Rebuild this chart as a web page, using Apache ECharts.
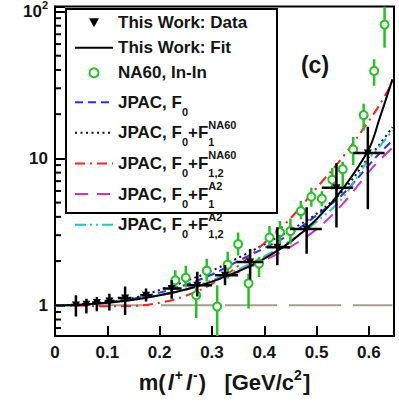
<!DOCTYPE html>
<html>
<head>
<meta charset="utf-8">
<script src="https://cdn.jsdelivr.net/npm/echarts@6/dist/echarts.min.js"></script>
<style>
  html, body { margin: 0; padding: 0; background: #fff; }
  #chart { width: 399px; height: 402px; }
</style>
</head>
<body>
<div id="chart"></div>
<script>
// Dilepton mass grid on which the form-factor curves are tabulated (GeV/c^2)
const curveMass = [0, 0.05, 0.1, 0.15, 0.2, 0.25, 0.3, 0.35, 0.4, 0.45, 0.5, 0.55, 0.6, 0.62, 0.645];
// |F|^2 curves
const fitCurve     = [1.00, 1.01, 1.04, 1.09, 1.17, 1.28, 1.45, 1.70, 2.08, 2.70, 3.85, 6.2, 11.6, 18.5, 34.5];
const jpacF0       = [1.00, 1.01, 1.05, 1.11, 1.22, 1.38, 1.62, 2.00, 2.45, 3.05, 4.10, 5.7, 9.0, 10.8, 13.2];
const jpacF1NA60   = [1.00, 1.01, 1.05, 1.12, 1.27, 1.46, 1.72, 2.10, 2.60, 3.25, 4.20, 6.0, 10.2, 12.4, 16.3];
const jpacF12NA60  = [1.00, 0.995, 0.985, 0.99, 1.04, 1.16, 1.40, 1.85, 2.65, 3.90, 6.3, 10.2, 18.0, 23.0, 33.0];
const jpacF1A2     = [1.00, 1.01, 1.04, 1.09, 1.17, 1.28, 1.45, 1.68, 2.02, 2.50, 3.30, 4.9, 8.1, 9.7, 11.8];
const jpacF12A2    = [1.00, 1.01, 1.04, 1.09, 1.17, 1.29, 1.48, 1.75, 2.15, 2.75, 3.70, 5.4, 9.9, 12.0, 15.5];

// This work: measured points with bin edges and uncertainties
const dataMass = [0.040, 0.060, 0.080, 0.104, 0.134, 0.174, 0.223, 0.272, 0.325, 0.373, 0.425, 0.481, 0.538, 0.598];
const dataLow  = [0.030, 0.052, 0.071, 0.095, 0.120, 0.163, 0.206, 0.252, 0.306, 0.347, 0.405, 0.449, 0.510, 0.570];
const dataHigh = [0.048, 0.068, 0.087, 0.114, 0.146, 0.185, 0.242, 0.300, 0.350, 0.398, 0.449, 0.510, 0.570, 0.630];
const dataVal  = [1.005, 1.017, 1.045, 1.07, 1.12, 1.17, 1.30, 1.37, 1.60, 1.97, 2.48, 3.30, 6.30, 10.9];
const dataErrLo = [0.84, 0.88, 0.91, 0.92, 0.86, 1.06, 1.11, 1.15, 1.37, 1.50, 1.87, 2.24, 3.39, 4.50];
const dataErrHi = [1.17, 1.11, 1.14, 1.20, 1.34, 1.30, 1.48, 1.69, 1.88, 2.42, 3.40, 4.64, 9.28, 16.4];

// NA60 In-In points
const na60Mass = [0.23, 0.25, 0.27, 0.29, 0.31, 0.33, 0.35, 0.37, 0.39, 0.41, 0.43, 0.45, 0.47, 0.49, 0.51, 0.53, 0.55, 0.57, 0.59, 0.61, 0.63];
const na60Val  = [1.48, 1.54, 1.17, 1.72, 0.98, 1.89, 2.61, 1.41, 1.92, 2.89, 3.15, 3.20, 4.38, 5.48, 5.32, 7.16, 8.45, 11.5, 19.7, 39.4, 81.4];
const na60Lo   = [1.27, 1.32, 0.82, 1.45, 0.55, 1.52, 2.18, 0.95, 1.56, 2.55, 2.62, 2.60, 3.85, 4.69, 4.73, 6.13, 6.45, 9.0, 15.5, 31.2, 56.7];
const na60Hi   = [1.73, 1.86, 1.37, 2.07, 1.37, 2.31, 3.13, 1.64, 2.13, 3.47, 3.75, 3.90, 5.13, 6.30, 5.98, 8.60, 9.50, 14.0, 23.5, 47.2, 108];

// Point-like reference |F|^2 = 1
const unityMass = [0, 0.645];
const unityVal = 1;

// Axis ranges and tick values
const xRange = [0, 0.648];
const yRange = [0.618, 108];
const yMinorTicks = [0.7, 0.8, 0.9, 2, 3, 4, 5, 6, 7, 8, 9, 20, 30, 40, 50, 60, 70, 80, 90];

const FONT = 'Liberation Sans, Arial, sans-serif';
const INK = '#151515';
const GREEN = '#22c422';
const CLEAR = 'rgba(0,0,0,0)';

const pairs = (xs, ys) => xs.map((x, i) => [x, ys[i]]);

function curve(name, ys, color, type) {
  return {
    name, type: 'line', data: pairs(curveMass, ys),
    smooth: 0.35, symbol: 'none', clip: true, z: 3,
    itemStyle: { color: CLEAR, borderWidth: 0 },
    lineStyle: { color, width: 2, type }
  };
}

const chart = echarts.init(document.getElementById('chart'), null, { renderer: 'svg' });

// Legend text: one line per entry, fixed line height so rows are evenly spaced
const LH = 24.5;
const txt = (extra) => Object.assign({ fontFamily: FONT, fontWeight: 'bold', color: INK, fontSize: 17, lineHeight: LH }, extra);

const legendRich = {
  t: txt({}),
  sub: txt({ fontSize: 11, padding: [19, 0, 0, 0] }),
  subz: txt({ fontSize: 11, padding: [19, 0, 0, 0], width: 0 }),
  sup: txt({ fontSize: 11, padding: [0, 0, 16, 0] })
};

const legendText = {
  'This Work: Data': '{t|This Work: Data}',
  'This Work: Fit': '{t|This Work: Fit}',
  'NA60, In-In': '{t|NA60, In-In}',
  'JPAC, F0': '{t|JPAC, F}{sub|0}',
  'JPAC, F0+F1 NA60': '{t|JPAC, F}{sub|0}{t|+F}{subz|1}{sup|NA60}',
  'JPAC, F0+F12 NA60': '{t|JPAC, F}{sub|0}{t|+F}{subz|1,2}{sup|NA60}',
  'JPAC, F0+F1 A2': '{t|JPAC, F}{sub|0}{t|+F}{subz|1}{sup|A2}',
  'JPAC, F0+F12 A2': '{t|JPAC, F}{sub|0}{t|+F}{subz|1,2}{sup|A2}'
};

const lineLegend = name => ({ name, itemStyle: { color: CLEAR, borderColor: CLEAR, borderWidth: 0 } });

function legendBlock(firstRowCenter, gap, data) {
  return {
    orient: 'vertical', left: 74, top: firstRowCenter - LH / 2, padding: 0, itemGap: gap,
    itemWidth: 38, itemHeight: 9, z: 5,
    textStyle: { fontFamily: FONT, fontWeight: 'bold', fontSize: 17, color: INK, lineHeight: LH, rich: legendRich },
    formatter: name => legendText[name] || name,
    data
  };
}

const option = {
  animation: false,
  backgroundColor: '#fff',
  grid: { left: 55, right: 5, top: 5, bottom: 64, show: true, borderColor: '#000', borderWidth: 2, containLabel: false },
  xAxis: {
    type: 'value', min: xRange[0], max: xRange[1], interval: 0.1,
    name: '{b|m(}{i|l}{s|+}{i|l}{s|-}{b|)   [GeV/c}{s|2}{b|]}',
    nameLocation: 'middle', nameGap: 33,
    nameTextStyle: {
      rich: {
        b: { fontFamily: FONT, fontWeight: 'bold', fontSize: 22, color: INK, lineHeight: 27 },
        i: { fontFamily: FONT, fontWeight: 'bold', fontStyle: 'italic', fontSize: 22, color: INK, lineHeight: 27, padding: [0, 1, 0, 2] },
        s: { fontFamily: FONT, fontWeight: 'bold', fontSize: 14, color: INK, lineHeight: 27, padding: [0, 1, 15, 0] }
      }
    },
    axisLine: { lineStyle: { color: '#000', width: 2 } },
    axisTick: { inside: true, length: 10, lineStyle: { color: '#000', width: 2 } },
    axisLabel: {
      margin: 8, fontFamily: FONT, fontWeight: 'bold', fontSize: 17, color: INK,
      formatter: v => {
        const r = Math.round(v * 10) / 10;
        if (Math.abs(v - r) > 1e-6) return '';
        return r === 0 ? '0' : r.toFixed(1);
      }
    },
    splitLine: { show: false }
  },
  yAxis: {
    type: 'log', logBase: 10, min: yRange[0], max: yRange[1],
    axisLine: { lineStyle: { color: '#000', width: 2 } },
    axisTick: { inside: true, length: 10, lineStyle: { color: '#000', width: 2 } },
    axisLabel: {
      margin: 7, fontFamily: FONT, fontWeight: 'bold', fontSize: 17, color: INK,
      rich: { sup: { fontFamily: FONT, fontWeight: 'bold', fontSize: 11, color: INK, padding: [0, 0, 12, 0] } },
      formatter: v => {
        if (Math.abs(v - 1) < 1e-6) return '1';
        if (Math.abs(v - 10) < 1e-5) return '10';
        if (Math.abs(v - 100) < 1e-4) return '10{sup|2}';
        return '';
      }
    },
    splitLine: { show: false }
  },
  legend: [
    legendBlock(22.7, 0.5, [
      { name: 'This Work: Data', icon: 'path://M0,0L10,0L5,9Z', itemStyle: { color: '#000' } },
      lineLegend('This Work: Fit'),
      { name: 'NA60, In-In', icon: 'circle', itemStyle: { color: '#fff', borderColor: GREEN, borderWidth: 2 } }
    ]),
    legendBlock(99.5, 0.6, [
      lineLegend('JPAC, F0'),
      lineLegend('JPAC, F0+F1 NA60'),
      lineLegend('JPAC, F0+F12 NA60'),
      lineLegend('JPAC, F0+F1 A2'),
      lineLegend('JPAC, F0+F12 A2')
    ])
  ],
  graphic: [
    { type: 'rect', z: 4, shape: { x: 66, y: 9, width: 211, height: 204 },
      style: { fill: '#fff', stroke: '#000', lineWidth: 2 } },
    { type: 'text', z: 4, x: 315, y: 65,
      style: { text: '(c)', font: 'bold 23px ' + FONT, fill: INK, textAlign: 'center', textVerticalAlign: 'middle' } }
  ],
  series: [
    {
      name: 'unity', type: 'line', data: unityMass.map(x => [x, unityVal]), symbol: 'none', z: 2,
      lineStyle: { color: '#a69f97', width: 2, type: [52, 12], dashOffset: 22 }
    },
    curve('JPAC, F0', jpacF0, '#2233ff', [8, 5]),
    curve('JPAC, F0+F1 NA60', jpacF1NA60, '#111', [2, 3.5]),
    curve('JPAC, F0+F12 NA60', jpacF12NA60, '#ff2020', [10, 5, 2, 5]),
    curve('JPAC, F0+F1 A2', jpacF1A2, '#cc33cc', [13, 9]),
    curve('JPAC, F0+F12 A2', jpacF12A2, '#22c4c4', [11, 4, 2, 4, 2, 4]),
    curve('This Work: Fit', fitCurve, '#000', 'solid'),
    {
      name: 'yMinorTicks', type: 'custom', z: 6, silent: true,
      data: yMinorTicks.map(v => [xRange[0], v]),
      renderItem: (params, api) => {
        const p = api.coord([api.value(0), api.value(1)]);
        return { type: 'line', shape: { x1: p[0], y1: p[1], x2: p[0] + 6, y2: p[1] }, style: { stroke: '#000', lineWidth: 2 } };
      }
    },
    {
      name: 'NA60, In-In', type: 'custom', z: 7, clip: true,
      itemStyle: { color: GREEN },
      data: na60Mass.map((x, i) => [x, na60Val[i], na60Lo[i], na60Hi[i]]),
      encode: { x: 0, y: [1, 2, 3] },
      renderItem: (params, api) => {
        const x = api.value(0);
        const c = api.coord([x, api.value(1)]);
        const lo = api.coord([x, api.value(2)]);
        const hi = api.coord([x, api.value(3)]);
        return {
          type: 'group', children: [
            { type: 'line', shape: { x1: c[0], y1: lo[1], x2: c[0], y2: hi[1] }, style: { stroke: GREEN, lineWidth: 2.5 } },
            { type: 'circle', shape: { cx: c[0], cy: c[1], r: 4 }, style: { fill: '#fff', stroke: GREEN, lineWidth: 2 } }
          ]
        };
      }
    },
    {
      name: 'This Work: Data', type: 'custom', z: 8, clip: true,
      itemStyle: { color: '#000' },
      data: dataMass.map((x, i) => [x, dataVal[i], dataErrLo[i], dataErrHi[i], dataLow[i], dataHigh[i]]),
      encode: { x: [0, 4, 5], y: [1, 2, 3] },
      renderItem: (params, api) => {
        const x = api.value(0), y = api.value(1);
        const c = api.coord([x, y]);
        const lo = api.coord([x, api.value(2)]);
        const hi = api.coord([x, api.value(3)]);
        const l = api.coord([api.value(4), y]);
        const r = api.coord([api.value(5), y]);
        return {
          type: 'group', children: [
            { type: 'line', shape: { x1: c[0], y1: lo[1], x2: c[0], y2: hi[1] }, style: { stroke: '#000', lineWidth: 2.5 } },
            { type: 'line', shape: { x1: l[0], y1: c[1], x2: r[0], y2: c[1] }, style: { stroke: '#000', lineWidth: 2.5 } },
            { type: 'polygon', shape: { points: [[c[0] - 4, c[1] - 3.5], [c[0] + 4, c[1] - 3.5], [c[0], c[1] + 4]] }, style: { fill: '#000' } }
          ]
        };
      }
    }
  ]
};

chart.setOption(option);
</script>
</body>
</html>
